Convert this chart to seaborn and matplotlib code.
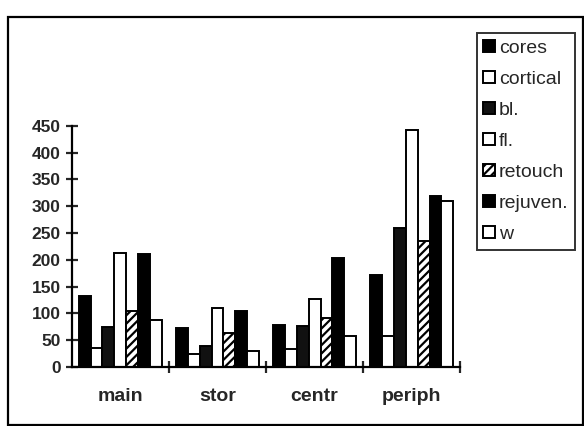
import pandas as pd
import seaborn as sns
import matplotlib.pyplot as plt
from matplotlib.patches import Patch, Rectangle

sites = ["main", "stor", "centr", "periph"]
series = ["cores", "cortical", "bl.", "fl.", "retouch", "rejuven.", "w"]

cores = [133, 73, 79, 171]
cortical = [36, 25, 34, 57]
bl = [75, 40, 76, 259]
fl = [213, 110, 126, 443]
retouch = [105, 64, 92, 235]
rejuven = [211, 105, 204, 320]
w = [87, 30, 57, 309]

fills = ["black", "white", "#111111", "white", "white", "black", "white"]
hatches = ["", "", "", "", "////", "", ""]

values = [cores, cortical, bl, fl, retouch, rejuven, w]
rows = []
for name, vals in zip(series, values):
    for site, v in zip(sites, vals):
        rows.append({"site": site, "type": name, "count": v})
df = pd.DataFrame(rows)

sns.set_theme(style="white")
plt.rcParams["font.family"] = ["Liberation Sans", "DejaVu Sans"]
plt.rcParams["hatch.linewidth"] = 1.6

fig = plt.figure(figsize=(5.84, 4.26), dpi=100)
ax = fig.add_axes([0.123, 0.1385, 0.665, 0.566])

sns.barplot(data=df, x="site", y="count", hue="type", order=sites,
            hue_order=series, palette=fills, width=0.86, gap=0,
            edgecolor="black", linewidth=1.4, saturation=1, legend=False, ax=ax)

for bars, h in zip(ax.containers, hatches):
    for b in bars:
        b.set_hatch(h)

ax.set_xlim(-0.5, 3.5)
ax.set_ylim(0, 450)
ax.set_yticks(range(0, 451, 50))
ax.set_xlabel("")
ax.set_ylabel("")
sns.despine(ax=ax)
for s in ["left", "bottom"]:
    ax.spines[s].set_linewidth(1.6)
    ax.spines[s].set_color("black")

ax.tick_params(axis="y", direction="inout", length=8, width=1.6, pad=4,
               labelsize=12.5, left=True)
ax.set_xticks([0.5, 1.5, 2.5, 3.5], minor=True)
ax.tick_params(axis="x", which="minor", direction="inout", length=8, width=1.6, bottom=True)
ax.tick_params(axis="x", which="major", length=0, pad=15, labelsize=14)
for t in ax.get_yticklabels() + ax.get_xticklabels():
    t.set_fontweight("bold")

handles = [Patch(facecolor=f, edgecolor="black", hatch=h, linewidth=1.4)
           for f, h in zip(fills, hatches)]
leg = fig.legend(handles, series, loc="upper left", bbox_to_anchor=(0.816, 0.923),
                 fontsize=14, frameon=True, fancybox=False, handlelength=0.6,
                 handleheight=0.6, handletextpad=0.2, labelspacing=0.72,
                 borderpad=0.35, borderaxespad=0)
leg.get_frame().set_edgecolor("black")
leg.get_frame().set_linewidth(1.4)

fig.patches.append(Rectangle((8 / 584, 1 / 426), 575 / 584, 408 / 426,
                             transform=fig.transFigure, fill=False,
                             edgecolor="black", linewidth=1.6))

fig.savefig("out.png", dpi=100)
